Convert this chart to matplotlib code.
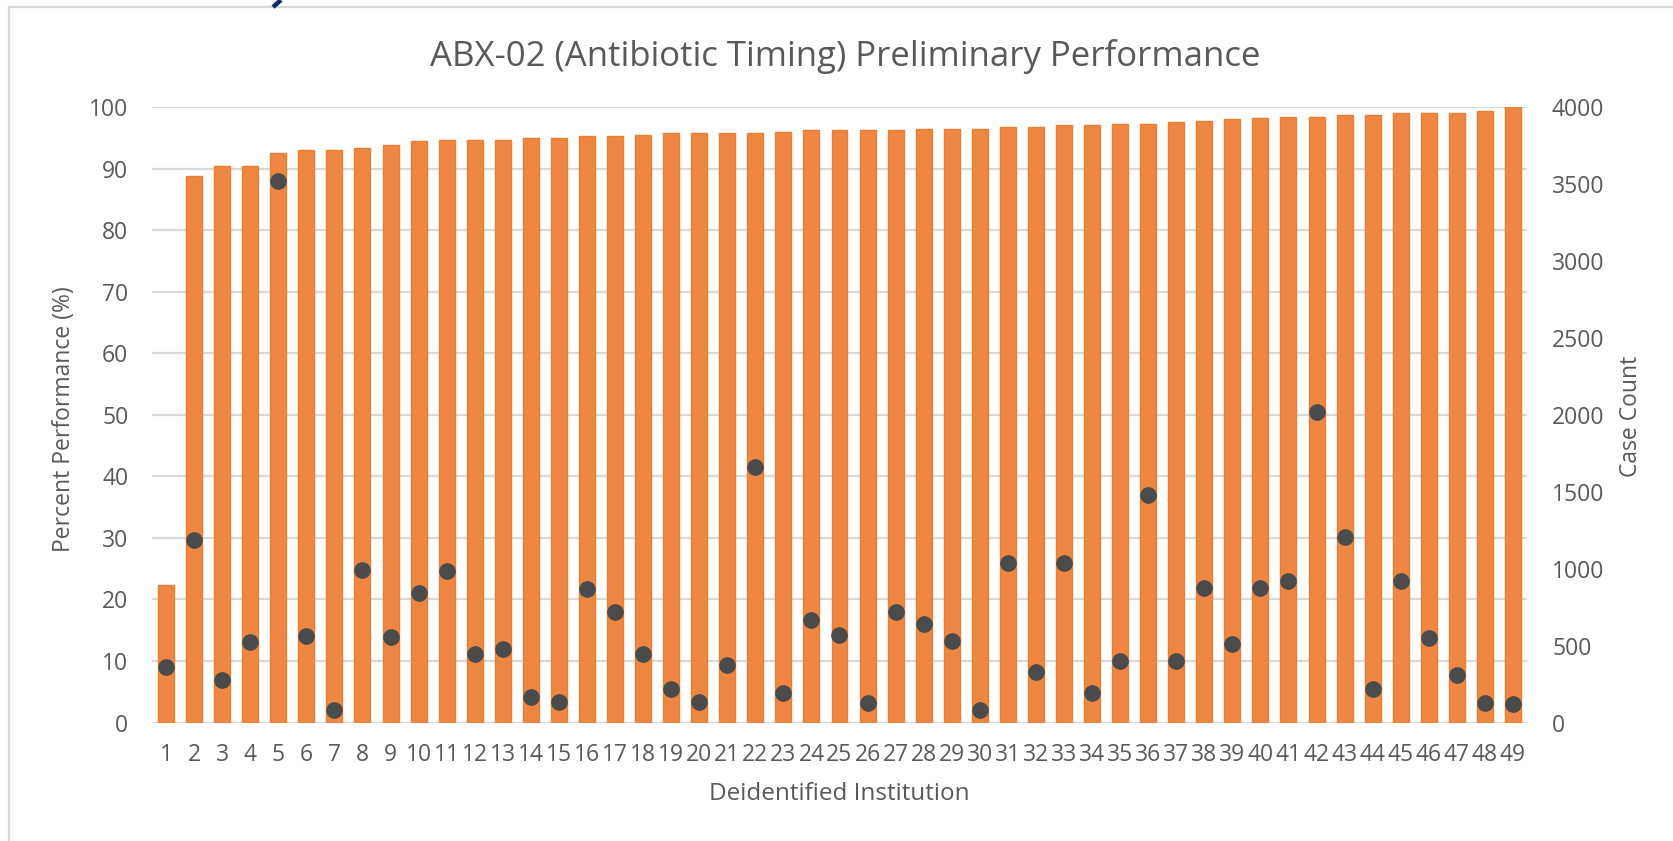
import matplotlib
matplotlib.use("Agg")
import matplotlib.pyplot as plt
from matplotlib.lines import Line2D
import numpy as np

plt.rcParams['font.family'] = ['Open Sans', 'DejaVu Sans']

# ---- data ----
institutions = [str(i) for i in range(1, 50)]
percent_performance = [22.4, 88.8, 90.4, 90.4, 92.5, 93.0, 93.0, 93.4, 93.8, 94.4,
                       94.7, 94.7, 94.7, 94.9, 94.9, 95.3, 95.3, 95.5, 95.7, 95.7,
                       95.7, 95.7, 95.9, 96.2, 96.2, 96.3, 96.3, 96.5, 96.5, 96.5,
                       96.8, 96.8, 97.0, 97.0, 97.3, 97.3, 97.5, 97.7, 98.0, 98.2,
                       98.4, 98.4, 98.7, 98.7, 99.1, 99.1, 99.1, 99.3, 100.0]
case_count = [359, 1189, 278, 522, 3519, 565, 84, 994, 554, 841,
              986, 446, 478, 168, 136, 867, 716, 446, 220, 136,
              371, 1658, 194, 667, 571, 128, 716, 641, 530, 84,
              1035, 328, 1035, 194, 397, 1481, 397, 875, 507, 875,
              919, 2020, 1203, 220, 919, 548, 310, 128, 119]
left_ticks = list(range(0, 101, 10))
right_ticks = list(range(0, 4001, 500))

title = "ABX-02 (Antibiotic Timing) Preliminary Performance"
xlabel = "Deidentified Institution"
ylabel_left = "Percent Performance (%)"
ylabel_right = "Case Count"

# ---- styling ----
W, H = 1673, 841
TXT = '#595959'
GRID = '#D9D9D9'

fig = plt.figure(figsize=(W / 100, H / 100), dpi=100)
ax = fig.add_axes([152 / W, 1 - 722.5 / H, 1375 / W, 615.5 / H])
ax2 = ax.twinx()

x = np.arange(len(institutions))
ax.bar(x, percent_performance, width=0.57, color='#EE8743', edgecolor='#ED7D31',
       linewidth=1.0, zorder=2)
ax.set_axisbelow(True)
ax.yaxis.grid(True, color=GRID, linewidth=1.6, zorder=0)
ax.set_ylim(0, 100)
ax.set_xlim(-0.5, len(institutions) - 0.5)
ax.set_yticks(left_ticks)
ax.set_xticks(x)
ax.set_xticklabels(institutions)

ax2.plot(x, case_count, 'o', ms=11, color='#4B4B4B', mec='#4B4B4B', zorder=3)
ax2.set_ylim(0, 4000)
ax2.set_yticks(right_ticks)

for a in (ax, ax2):
    for s in a.spines.values():
        s.set_visible(False)

ax.tick_params(axis='y', length=0, pad=17, labelsize=16.5, labelcolor=TXT)
ax.tick_params(axis='x', length=0, pad=15, labelsize=16.5, labelcolor=TXT)
ax2.tick_params(axis='y', length=0, pad=18, labelsize=16.5, labelcolor=TXT)

fig.text(845 / W, 1 - 57 / H, title, ha='center', va='center', fontsize=25, color=TXT)
fig.text(64 / W, 1 - 419 / H, ylabel_left, rotation=90, ha='center', va='center',
         fontsize=16.5, color=TXT)
fig.text(1631 / W, 1 - 416 / H, ylabel_right, rotation=90, ha='center', va='center',
         fontsize=16.5, color=TXT)
fig.text(839 / W, 1 - 794 / H, xlabel, ha='center', va='center', fontsize=17.5, color=TXT)

# chart border (left and top visible)
fig.add_artist(Line2D([9 / W, 9 / W], [0, 1 - 7 / H], transform=fig.transFigure,
                      color=GRID, linewidth=1.6))
fig.add_artist(Line2D([9 / W, 1], [1 - 7 / H, 1 - 7 / H], transform=fig.transFigure,
                      color=GRID, linewidth=1.6))
# small navy stroke of slide content above the chart
fig.add_artist(Line2D([281 / W, 273 / W], [1, 1 - 7 / H], transform=fig.transFigure,
                      color='#0B2A66', linewidth=3.2, solid_capstyle='butt'))

fig.savefig('out.png', dpi=100, facecolor='white')
